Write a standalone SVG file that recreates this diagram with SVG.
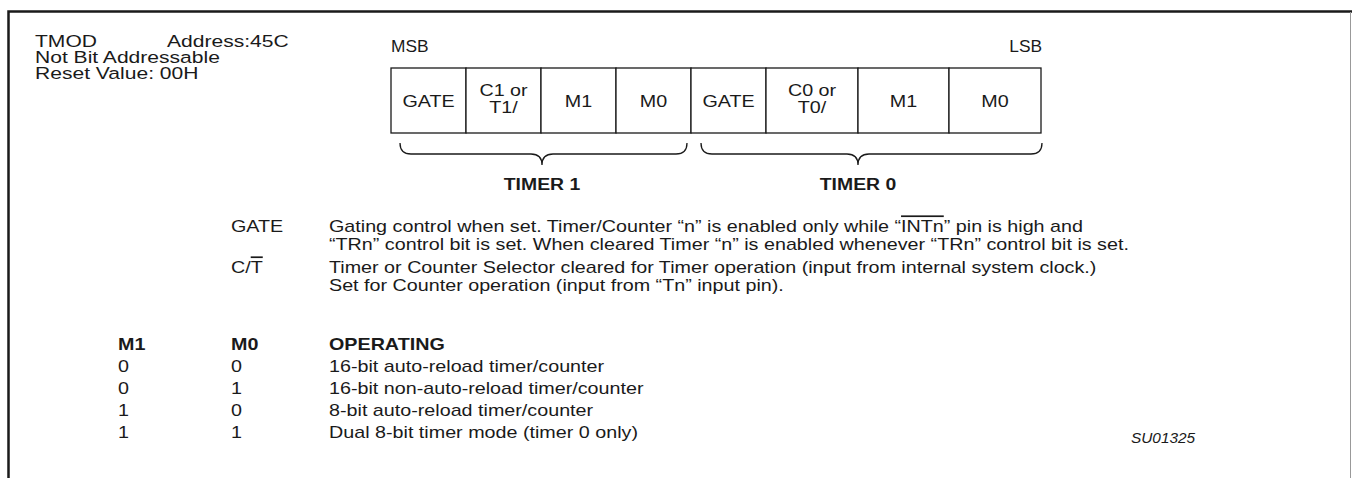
<svg xmlns="http://www.w3.org/2000/svg" width="1352" height="478" viewBox="0 0 1352 478">
<style>
text{font-family:"Liberation Sans",Arial,sans-serif;font-size:17px;fill:#1a1a1a}
.b{font-weight:bold}
.c{text-anchor:middle}
.e{text-anchor:end}
.cell{fill:#fff;stroke:#1a1a1a;stroke-width:1.3}
.br{fill:none;stroke:#1a1a1a;stroke-width:1.3}
.ov{text-decoration:overline}
</style>
<rect width="1352" height="478" fill="#fff"/>
<path d="M8.5,478 V11.5 H1352" fill="none" stroke="#1a1a1a" stroke-width="2.5"/>
<line x1="1350.5" y1="12" x2="1350.5" y2="478" stroke="#999" stroke-width="1"/>
<g id="header">
<text transform="translate(35,47) scale(1.24,1)">TMOD</text>
<text transform="translate(167,47) scale(1.24,1)">Address:45C</text>
<text transform="translate(35,63) scale(1.24,1)">Not Bit Addressable</text>
<text transform="translate(35,79) scale(1.24,1)">Reset Value: 00H</text>
<text transform="translate(391,52) scale(1.02,1)">MSB</text>
<text class="e" transform="translate(1042,52) scale(1.02,1)">LSB</text>
</g>
<g id="register">
<rect class="cell" x="391" y="68" width="75" height="65"/>
<rect class="cell" x="466" y="68" width="75" height="65"/>
<rect class="cell" x="541" y="68" width="75" height="65"/>
<rect class="cell" x="616" y="68" width="75" height="65"/>
<rect class="cell" x="691" y="68" width="75" height="65"/>
<rect class="cell" x="766" y="68" width="92" height="65"/>
<rect class="cell" x="858" y="68" width="91" height="65"/>
<rect class="cell" x="949" y="68" width="92" height="65"/>
<text class="c" transform="translate(428.5,107) scale(1.16,1)">GATE</text>
<text class="c" transform="translate(503.5,96) scale(1.16,1)">C1 or</text>
<text class="c" transform="translate(503.5,113) scale(1.16,1)">T1/</text>
<text class="c" transform="translate(578.5,107) scale(1.16,1)">M1</text>
<text class="c" transform="translate(653.5,107) scale(1.16,1)">M0</text>
<text class="c" transform="translate(728.5,107) scale(1.16,1)">GATE</text>
<text class="c" transform="translate(812,96) scale(1.16,1)">C0 or</text>
<text class="c" transform="translate(812,113) scale(1.16,1)">T0/</text>
<text class="c" transform="translate(903.5,107) scale(1.16,1)">M1</text>
<text class="c" transform="translate(995,107) scale(1.16,1)">M0</text>
</g>
<g id="connectors">
<path class="br" d="M400,143 Q400,154 411,154 H531 Q542,154 542,165 Q542,154 553,154 H676 Q687,154 687,143"/>
<path class="br" d="M701,143 Q701,154 712,154 H847 Q858,154 858,165 Q858,154 869,154 H1031 Q1042,154 1042,143"/>
</g>
<g id="timers">
<text class="c b" transform="translate(542,190) scale(1.14,1)">TIMER 1</text>
<text class="c b" transform="translate(858,190) scale(1.14,1)">TIMER 0</text>
</g>
<g id="descriptions">
<text transform="translate(231,232) scale(1.16,1)">GATE</text>
<text transform="translate(329,232) scale(1.16,1)">Gating control when set. Timer/Counter “n” is enabled only while “<tspan class="ov">INTn</tspan>” pin is high and</text>
<text transform="translate(329,250) scale(1.16,1)">“TRn” control bit is set. When cleared Timer “n” is enabled whenever “TRn” control bit is set.</text>
<text transform="translate(231,273) scale(1.16,1)">C/<tspan class="ov">T</tspan></text>
<text transform="translate(329,273) scale(1.16,1)">Timer or Counter Selector cleared for Timer operation (input from internal system clock.)</text>
<text transform="translate(329,291) scale(1.16,1)">Set for Counter operation (input from “Tn” input pin).</text>
</g>
<g id="modes">
<text class="b" transform="translate(118,350) scale(1.16,1)">M1</text>
<text class="b" transform="translate(231,350) scale(1.16,1)">M0</text>
<text class="b" transform="translate(329,350) scale(1.16,1)">OPERATING</text>
<text transform="translate(118,372) scale(1.16,1)">0</text><text transform="translate(231,372) scale(1.16,1)">0</text><text transform="translate(329,372) scale(1.16,1)">16-bit auto-reload timer/counter</text>
<text transform="translate(118,394) scale(1.16,1)">0</text><text transform="translate(231,394) scale(1.16,1)">1</text><text transform="translate(329,394) scale(1.16,1)">16-bit non-auto-reload timer/counter</text>
<text transform="translate(118,416) scale(1.16,1)">1</text><text transform="translate(231,416) scale(1.16,1)">0</text><text transform="translate(329,416) scale(1.16,1)">8-bit auto-reload timer/counter</text>
<text transform="translate(118,438) scale(1.16,1)">1</text><text transform="translate(231,438) scale(1.16,1)">1</text><text transform="translate(329,438) scale(1.16,1)">Dual 8-bit timer mode (timer 0 only)</text>
</g>
<text transform="translate(1131,443) scale(1.1,1)" style="font-style:italic;font-size:14px">SU01325</text>
</svg>
